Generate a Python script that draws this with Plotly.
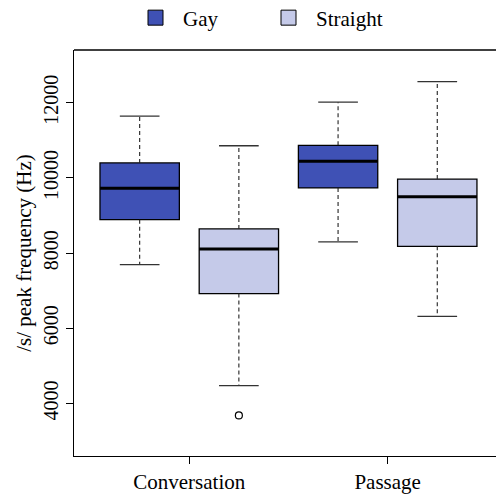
import plotly.graph_objects as go

categories = ["Conversation", "Passage"]
groups = ["Gay", "Straight"]
colors = {"Gay": "#3F51B5", "Straight": "#C5CAE9"}

# five-number summaries per group, one value per category
lower_whisker = {"Gay": [7697, 8302], "Straight": [4474, 6318]}
q1 = {"Gay": [8892, 9735], "Straight": [6924, 8181]}
median = {"Gay": [9725, 10446], "Straight": [8110, 9498]}
q3 = {"Gay": [10401, 10868], "Straight": [8645, 9972]}
upper_whisker = {"Gay": [11648, 12016], "Straight": [10858, 12562]}
outliers_straight_conv = [3684]

y_ticks = [4000, 6000, 8000, 10000, 12000]
y_tick_labels = ["4000", "6000", "8000", "10000", "12000"]

FONT = "Liberation Serif, DejaVu Serif, serif"
offsets = {"Gay": -0.25, "Straight": 0.25}
box_w = 0.4
cap_w = 0.2

fig = go.Figure()
for g in groups:
    xs = [i + 1 + offsets[g] for i in range(len(categories))]
    fig.add_trace(go.Box(
        x=xs, q1=q1[g], median=median[g], q3=q3[g],
        lowerfence=q1[g], upperfence=q3[g],
        width=box_w, fillcolor=colors[g],
        line=dict(color="black", width=1.3),
        boxpoints=False, showlegend=False, hoverinfo="skip",
    ))
    wx, wy = [], []
    cx, cy = [], []
    mx, my = [], []
    for i, x in enumerate(xs):
        wx += [x, x, None, x, x, None]
        wy += [q3[g][i], upper_whisker[g][i], None, q1[g][i], lower_whisker[g][i], None]
        for v in (upper_whisker[g][i], lower_whisker[g][i]):
            cx += [x - cap_w / 2, x + cap_w / 2, None]
            cy += [v, v, None]
        mx += [x - box_w / 2, x + box_w / 2, None]
        my += [median[g][i], median[g][i], None]
    fig.add_trace(go.Scatter(x=wx, y=wy, mode="lines",
                             line=dict(color="#222", width=1.1, dash="4px,3px"),
                             showlegend=False, hoverinfo="skip"))
    fig.add_trace(go.Scatter(x=cx, y=cy, mode="lines",
                             line=dict(color="#333", width=1.3),
                             showlegend=False, hoverinfo="skip"))
    fig.add_trace(go.Scatter(x=mx, y=my, mode="lines",
                             line=dict(color="black", width=3),
                             showlegend=False, hoverinfo="skip"))

fig.add_trace(go.Scatter(
    x=[1 + offsets["Straight"]] * len(outliers_straight_conv), y=outliers_straight_conv,
    mode="markers", marker=dict(symbol="circle-open", size=7, color="black", line=dict(width=1.2)),
    showlegend=False, hoverinfo="skip"))

for g in groups:
    fig.add_trace(go.Scatter(
        x=[None], y=[None], mode="markers", name=g,
        marker=dict(symbol="square", size=15, color=colors[g], line=dict(color="black", width=1)),
    ))

fig.update_layout(
    width=496, height=494,
    margin=dict(l=74, r=0, t=50, b=34),
    paper_bgcolor="white", plot_bgcolor="white",
    font=dict(family=FONT, size=20, color="black"),
    boxmode="overlay",
    legend=dict(orientation="h", xref="container", yref="container",
                x=128 / 496, xanchor="left", y=1 - 18 / 494, yanchor="middle",
                font=dict(size=21), entrywidth=73, entrywidthmode="pixels",
                itemwidth=45, bgcolor="rgba(0,0,0,0)"),
    xaxis=dict(range=[0.419, 2.546], tickvals=[1, 2], ticktext=categories,
               showline=True, linecolor="black", linewidth=1.3,
               ticks="outside", ticklen=7, tickcolor="black",
               showgrid=False, zeroline=False, tickfont=dict(size=21)),
    yaxis=dict(range=[2604, 13405], tickvals=y_ticks, ticktext=y_tick_labels,
               tickangle=-90, showline=True, linecolor="black", linewidth=1.3,
               ticks="outside", ticklen=7, tickcolor="black",
               showgrid=False, zeroline=False, tickfont=dict(size=20),
               title=dict(text="/s/ peak frequency (Hz)", font=dict(size=21), standoff=2)),
    shapes=[dict(type="line", xref="paper", yref="paper", x0=0, x1=1, y0=1, y1=1,
                 line=dict(color="black", width=1.3))],
)

fig.write_html("out.html")
